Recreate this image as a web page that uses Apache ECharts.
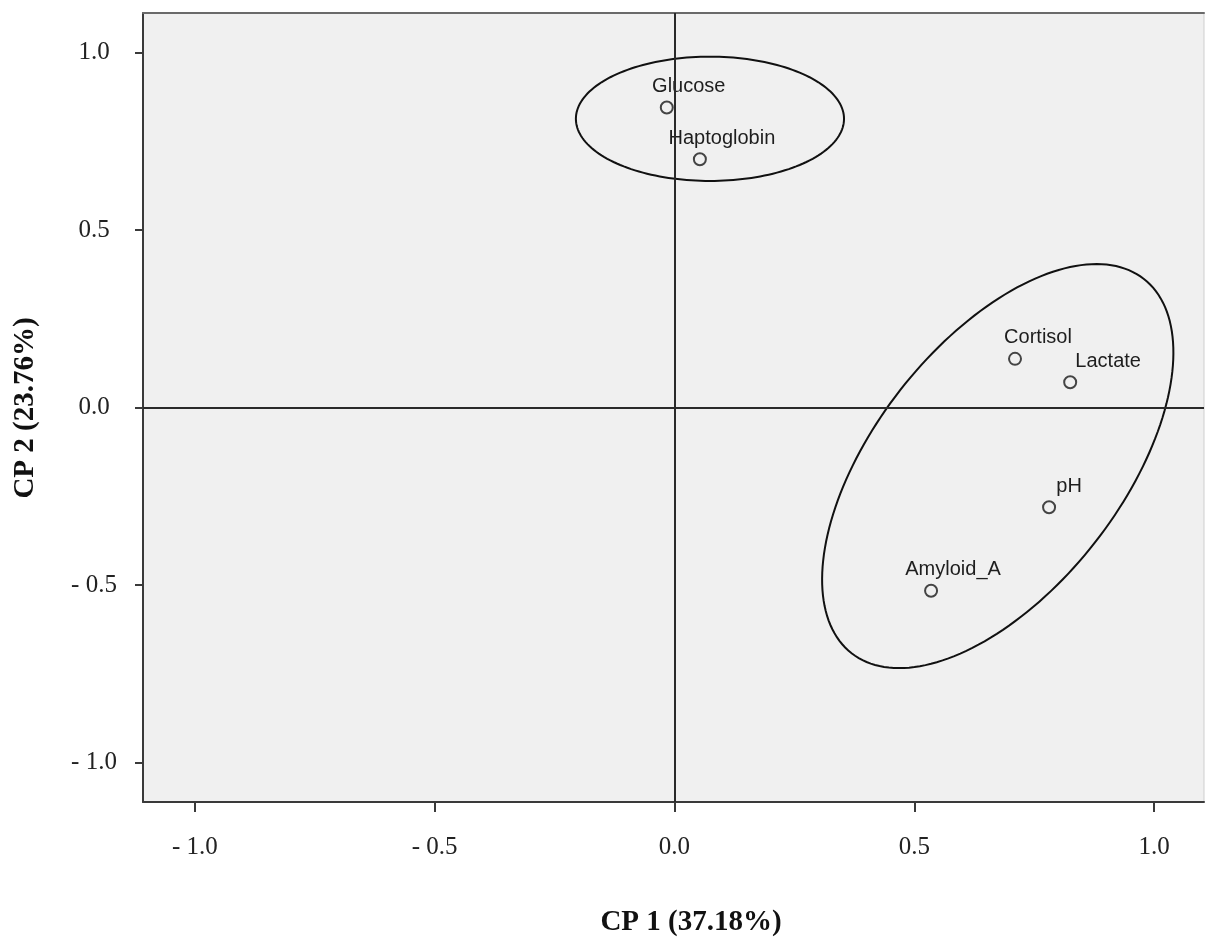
<!DOCTYPE html>
<html>
<head>
<meta charset="utf-8">
<script src="https://cdn.jsdelivr.net/npm/echarts@6/dist/echarts.min.js"></script>
<style>
html,body{margin:0;padding:0;background:#fff;}
#main{width:1206px;height:938px;}
</style>
</head>
<body>
<div id="main"></div>
<script>
// ---- data ----
const variables = ['Glucose', 'Haptoglobin', 'Cortisol', 'Lactate', 'pH', 'Amyloid_A'];
const cp1 = [-0.016, 0.053, 0.710, 0.825, 0.781, 0.535];
const cp2 = [0.845, 0.699, 0.137, 0.071, -0.281, -0.516];
const tickValues = [-1.0, -0.5, 0.0, 0.5, 1.0];
const tickLabels = ['- 1.0', '- 0.5', '0.0', '0.5', '1.0'];
const xTitle = 'CP 1 (37.18%)';
const yTitle = 'CP 2 (23.76%)';
// grouping ellipses (centre, two conjugate semi-axis vectors, in CP units)
const ellipseCx = [0.074, 0.674];
const ellipseCy = [0.813, -0.165];
const ellipseU = [[0.2795, 0.0], [0.3047, 0.527]];
const ellipseV = [[0.0, 0.175], [0.2031, -0.2144]];
// label horizontal shifts (px)
const labelShift = [22, 22, 23, 38, 20, 22];

const chart = echarts.init(document.getElementById('main'), null, {renderer: 'canvas'});
const labelMap = {};
tickValues.forEach((v, i) => { labelMap[v.toFixed(1)] = tickLabels[i]; });
const fmt = v => labelMap[Number(v).toFixed(1)] || '';

const serif = 'Liberation Serif';
const tickFont = {fontFamily: serif, fontSize: 25, color: '#222'};

const option = {
  backgroundColor: '#ffffff',
  animation: false,
  grid: {
    left: 143, right: 2, top: 13, bottom: 136,
    containLabel: false, outerBoundsMode: 'none',
    show: true, backgroundColor: '#f0f0f0', borderColor: '#cfcfcf', borderWidth: 1
  },
  xAxis: [{
    type: 'value', min: -1.108, max: 1.104, position: 'bottom',
    axisLine: {show: true, onZero: false, lineStyle: {color: '#3a3a3a', width: 2}},
    axisTick: {show: true, length: 10, lineStyle: {color: '#3a3a3a', width: 2}, customValues: tickValues},
    axisLabel: Object.assign({margin: 33, formatter: fmt, customValues: tickValues}, tickFont),
    splitLine: {show: false}
  }, {
    type: 'value', min: -1.108, max: 1.104, position: 'top',
    axisLine: {show: true, onZero: false, lineStyle: {color: '#6a6a6a', width: 2}},
    axisTick: {show: false}, axisLabel: {show: false}, splitLine: {show: false}
  }],
  yAxis: [{
    type: 'value', min: -1.111, max: 1.111, position: 'left',
    axisLine: {show: true, onZero: false, lineStyle: {color: '#3a3a3a', width: 2}},
    axisTick: {show: true, length: 8, lineStyle: {color: '#3a3a3a', width: 2}, customValues: tickValues},
    axisLabel: Object.assign({margin: 49, align: 'center', formatter: fmt, customValues: tickValues}, tickFont),
    splitLine: {show: false}
  }],
  graphic: [{
    type: 'text', x: 691, y: 923,
    style: {text: xTitle, font: 'bold 29px "Liberation Serif"', fill: '#111', align: 'center', verticalAlign: 'middle'}
  }, {
    type: 'text', x: 26, y: 408, rotation: Math.PI / 2,
    style: {text: yTitle, font: 'bold 29px "Liberation Serif"', fill: '#111', align: 'center', verticalAlign: 'middle'}
  }],
  series: [{
    type: 'custom',
    name: 'groups',
    silent: true,
    clip: false,
    data: ellipseCx.map((cx, i) => [cx, ellipseCy[i]]),
    renderItem: function (params, api) {
      const i = params.dataIndex;
      const cx = api.value(0), cy = api.value(1);
      const U = ellipseU[i], V = ellipseV[i];
      const pts = [];
      const n = 180;
      for (let k = 0; k < n; k++) {
        const t = 2 * Math.PI * k / n;
        pts.push(api.coord([cx + U[0] * Math.cos(t) + V[0] * Math.sin(t),
                            cy + U[1] * Math.cos(t) + V[1] * Math.sin(t)]));
      }
      return {type: 'polygon', shape: {points: pts}, style: {fill: 'none', stroke: '#111', lineWidth: 2}};
    },
    z: 3
  }, {
    type: 'scatter',
    data: variables.map((n, i) => ({
      name: n, value: [cp1[i], cp2[i]],
      label: {offset: [labelShift[i], 0]}
    })),
    symbol: 'circle',
    symbolSize: 12,
    itemStyle: {color: '#f0f0f0', borderColor: '#444', borderWidth: 2, opacity: 1},
    label: {
      show: true, position: 'top', distance: 4,
      formatter: p => p.name,
      fontFamily: 'Liberation Sans', fontSize: 20, color: '#1e1e1e'
    },
    markLine: {
      silent: true, symbol: ['none', 'none'], animation: false,
      label: {show: false},
      lineStyle: {color: '#2a2a2a', width: 2, type: 'solid'},
      data: [{xAxis: 0}, {yAxis: 0}]
    },
    z: 4
  }]
};
chart.setOption(option);
</script>
</body>
</html>
